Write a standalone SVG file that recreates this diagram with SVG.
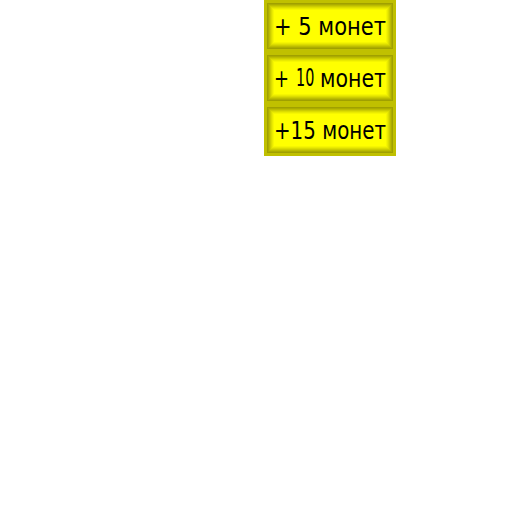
<svg xmlns="http://www.w3.org/2000/svg" width="512" height="512" viewBox="0 0 512 512">
<style>
.t{font-family:"DejaVu Sans","Verdana",sans-serif;font-size:25px;fill:#000}
.thin{font-family:"DejaVu Sans",sans-serif;font-size:24px;fill:#000}
</style>
<defs>
<g id="btn">
<rect x="264" y="0" width="132" height="52" fill="#c0c000"/>
<rect x="267" y="3" width="126" height="46" fill="#a0a000"/>
<rect x="268" y="4" width="124" height="44" fill="#acac00"/>
<rect x="269" y="5" width="122" height="42" fill="#bcbc00"/>
<rect x="270" y="6" width="120" height="40" fill="#cccc00"/>
<rect x="271" y="7" width="118" height="38" fill="#dcdc00"/>
<rect x="272" y="8" width="116" height="36" fill="#eaea00"/>
<rect x="273" y="9" width="114" height="34" fill="#f6f600"/>
<rect x="274" y="10" width="112" height="32" fill="#ffff00"/>
</g>
</defs>
<g id="btn1"><use href="#btn"/><text class="t" x="274" y="35" textLength="112" lengthAdjust="spacingAndGlyphs">+ 5 монет</text></g>
<g id="btn2"><use href="#btn" y="52"/>
<text class="t" x="274" y="87" textLength="15" lengthAdjust="spacingAndGlyphs">+</text>
<text class="thin" transform="translate(296,86) scale(0.6,1)">10</text>
<text class="t" x="320" y="87" textLength="66" lengthAdjust="spacingAndGlyphs">монет</text></g>
<g id="btn3"><use href="#btn" y="104"/><text class="t" x="274" y="139" textLength="112" lengthAdjust="spacingAndGlyphs">+15 монет</text></g>
</svg>
